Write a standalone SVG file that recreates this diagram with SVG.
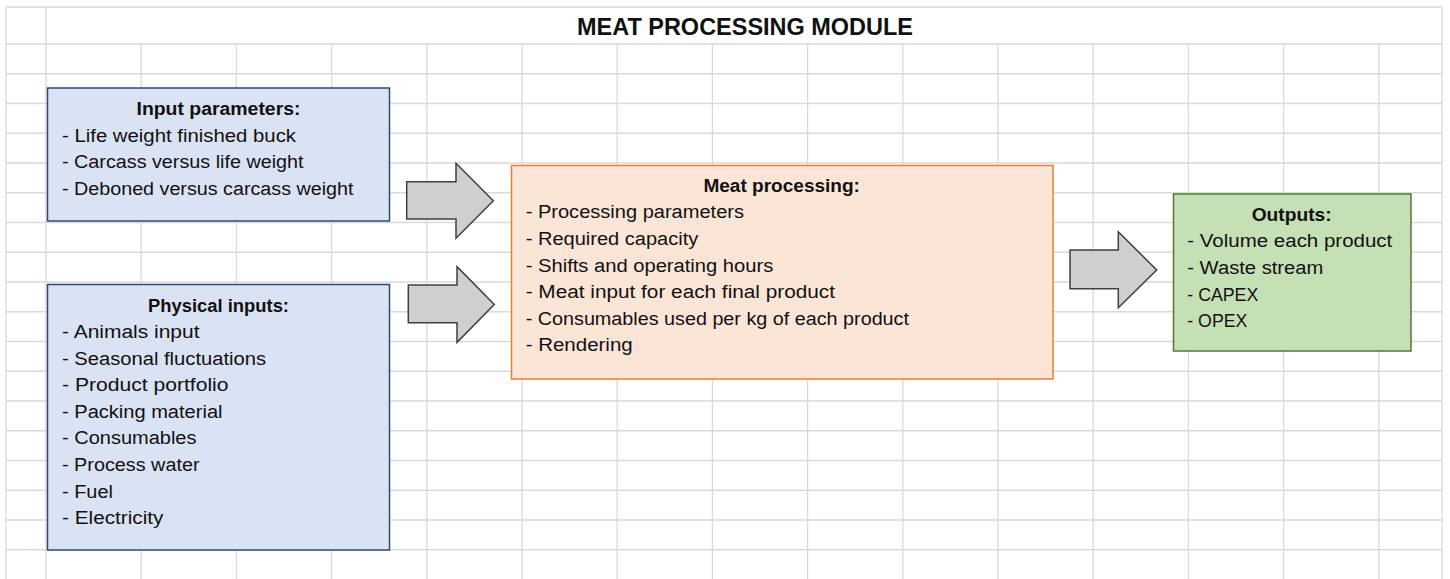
<svg xmlns="http://www.w3.org/2000/svg" width="1450" height="579" viewBox="0 0 1450 579">
<defs>
<style>
.grid line{stroke:#d9d9d9;stroke-width:1.3}
.t{font-family:"Liberation Sans",Arial,sans-serif;font-size:18px;fill:#111}
.b{font-weight:bold;text-anchor:middle}
.arrow{fill:#d0cece;stroke:#404040;stroke-width:1.5;stroke-linejoin:miter}
</style>
</defs>
<rect width="1450" height="579" fill="#fff"/>
<g class="grid" id="grid">
<line x1="6" y1="7" x2="1442" y2="7"/>
<line x1="6" y1="44" x2="1442" y2="44"/>
<line x1="6" y1="73.75" x2="1442" y2="73.75"/>
<line x1="6" y1="103.5" x2="1442" y2="103.5"/>
<line x1="6" y1="133.25" x2="1442" y2="133.25"/>
<line x1="6" y1="163" x2="1442" y2="163"/>
<line x1="6" y1="192.75" x2="1442" y2="192.75"/>
<line x1="6" y1="222.5" x2="1442" y2="222.5"/>
<line x1="6" y1="252.25" x2="1442" y2="252.25"/>
<line x1="6" y1="282" x2="1442" y2="282"/>
<line x1="6" y1="311.75" x2="1442" y2="311.75"/>
<line x1="6" y1="341.5" x2="1442" y2="341.5"/>
<line x1="6" y1="371.25" x2="1442" y2="371.25"/>
<line x1="6" y1="401" x2="1442" y2="401"/>
<line x1="6" y1="430.75" x2="1442" y2="430.75"/>
<line x1="6" y1="460.5" x2="1442" y2="460.5"/>
<line x1="6" y1="490.25" x2="1442" y2="490.25"/>
<line x1="6" y1="520" x2="1442" y2="520"/>
<line x1="6" y1="549.75" x2="1442" y2="549.75"/>
<line x1="6" y1="7" x2="6" y2="579"/>
<line x1="46" y1="7" x2="46" y2="579"/>
<line x1="141.2" y1="44" x2="141.2" y2="579"/>
<line x1="236.4" y1="44" x2="236.4" y2="579"/>
<line x1="331.6" y1="44" x2="331.6" y2="579"/>
<line x1="426.8" y1="44" x2="426.8" y2="579"/>
<line x1="522" y1="44" x2="522" y2="579"/>
<line x1="617.2" y1="44" x2="617.2" y2="579"/>
<line x1="712.4" y1="44" x2="712.4" y2="579"/>
<line x1="807.6" y1="44" x2="807.6" y2="579"/>
<line x1="902.8" y1="44" x2="902.8" y2="579"/>
<line x1="998" y1="44" x2="998" y2="579"/>
<line x1="1093.2" y1="44" x2="1093.2" y2="579"/>
<line x1="1188.4" y1="44" x2="1188.4" y2="579"/>
<line x1="1283.6" y1="44" x2="1283.6" y2="579"/>
<line x1="1378.8" y1="44" x2="1378.8" y2="579"/>
<line x1="1442" y1="7" x2="1442" y2="579"/>
</g>
<g id="title">
<text class="t b" x="745" y="35" style="font-size:23px" textLength="336" lengthAdjust="spacingAndGlyphs">MEAT PROCESSING MODULE</text>
</g>
<g id="input-parameters">
<rect x="47.5" y="88" width="342" height="133" fill="#dae3f3" stroke="#2f4a7a" stroke-width="1.5"/>
<text class="t b" x="218.5" y="115" textLength="164" lengthAdjust="spacingAndGlyphs">Input parameters:</text>
<text class="t" x="62" y="141.6" textLength="234" lengthAdjust="spacingAndGlyphs">- Life weight finished buck</text>
<text class="t" x="62" y="168.2" textLength="241.5" lengthAdjust="spacingAndGlyphs">- Carcass versus life weight</text>
<text class="t" x="62" y="194.8" textLength="291.5" lengthAdjust="spacingAndGlyphs">- Deboned versus carcass weight</text>
</g>
<g id="physical-inputs">
<rect x="47.5" y="284.5" width="342" height="265.5" fill="#dae3f3" stroke="#2f4a7a" stroke-width="1.5"/>
<text class="t b" x="218.5" y="311.5" textLength="141" lengthAdjust="spacingAndGlyphs">Physical inputs:</text>
<text class="t" x="62" y="338" textLength="137.5" lengthAdjust="spacingAndGlyphs">- Animals input</text>
<text class="t" x="62" y="364.6" textLength="204" lengthAdjust="spacingAndGlyphs">- Seasonal fluctuations</text>
<text class="t" x="62" y="391.2" textLength="166.5" lengthAdjust="spacingAndGlyphs">- Product portfolio</text>
<text class="t" x="62" y="417.8" textLength="160.5" lengthAdjust="spacingAndGlyphs">- Packing material</text>
<text class="t" x="62" y="444.4" textLength="134.5" lengthAdjust="spacingAndGlyphs">- Consumables</text>
<text class="t" x="62" y="471" textLength="137.5" lengthAdjust="spacingAndGlyphs">- Process water</text>
<text class="t" x="62" y="497.6" textLength="51" lengthAdjust="spacingAndGlyphs">- Fuel</text>
<text class="t" x="62" y="524.2" textLength="101.5" lengthAdjust="spacingAndGlyphs">- Electricity</text>
</g>
<g id="meat-processing">
<rect x="511.5" y="165.5" width="541.5" height="213.5" fill="#fbe5d6" stroke="#ed7d31" stroke-width="1.5"/>
<text class="t b" x="781.7" y="191.7" textLength="156.5" lengthAdjust="spacingAndGlyphs">Meat processing:</text>
<text class="t" x="525.7" y="218.3" textLength="218.3" lengthAdjust="spacingAndGlyphs">- Processing parameters</text>
<text class="t" x="525.7" y="244.9" textLength="172.6" lengthAdjust="spacingAndGlyphs">- Required capacity</text>
<text class="t" x="525.7" y="271.5" textLength="247.6" lengthAdjust="spacingAndGlyphs">- Shifts and operating hours</text>
<text class="t" x="525.7" y="298.1" textLength="309.3" lengthAdjust="spacingAndGlyphs">- Meat input for each final product</text>
<text class="t" x="525.7" y="324.7" textLength="383.3" lengthAdjust="spacingAndGlyphs">- Consumables used per kg of each product</text>
<text class="t" x="525.7" y="351.3" textLength="107" lengthAdjust="spacingAndGlyphs">- Rendering</text>
</g>
<g id="outputs">
<rect x="1173.5" y="194" width="237.5" height="157" fill="#c5e0b4" stroke="#4f7a34" stroke-width="1.5"/>
<text class="t b" x="1291.7" y="220.7" textLength="80" lengthAdjust="spacingAndGlyphs">Outputs:</text>
<text class="t" x="1187.3" y="247.3" textLength="205" lengthAdjust="spacingAndGlyphs">- Volume each product</text>
<text class="t" x="1187.3" y="273.9" textLength="136" lengthAdjust="spacingAndGlyphs">- Waste stream</text>
<text class="t" x="1187.3" y="300.5" textLength="71" lengthAdjust="spacingAndGlyphs">- CAPEX</text>
<text class="t" x="1187.3" y="327.1" textLength="60" lengthAdjust="spacingAndGlyphs">- OPEX</text>
</g>
<g id="connectors">
<polygon class="arrow" points="406.7,181.7 456,181.7 456,163.3 493.3,200.7 456,238.3 456,219 406.7,219"/>
<polygon class="arrow" points="408.3,285 457,285 457,266.7 494.3,304.5 457,342.3 457,322.7 408.3,322.7"/>
<polygon class="arrow" points="1070,250 1118.3,250 1118.3,231.7 1156.7,270 1118.3,307.7 1118.3,288.7 1070,288.7"/>
</g>
</svg>
